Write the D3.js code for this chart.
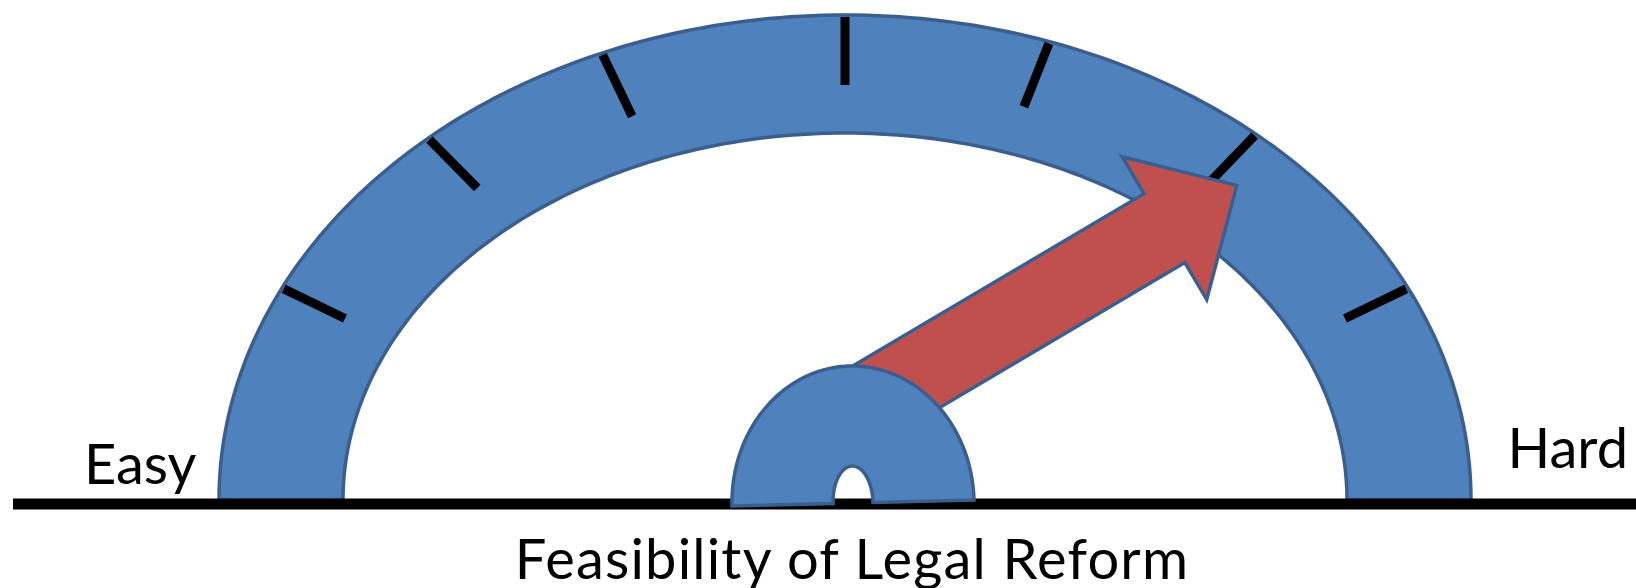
<!DOCTYPE html>
<html>
<head>
<meta charset="utf-8">
<script src="https://cdn.jsdelivr.net/npm/d3@7"></script>
<style>
  html, body { margin: 0; padding: 0; background: #ffffff; }
  svg { display: block; }
</style>
</head>
<body>
<svg id="chart" width="1636" height="588"></svg>
<script>
// ---- data ----
const scaleDomain = [0, 100];               // Easy -> Hard
const tickValues = [14.4, 26.8, 37.3, 50, 60.6, 72.8, 85.6];
const needleValue = 83;
const endLabels = ["Easy", "Hard"];
const axisTitle = "Feasibility of Legal Reform";

// ---- layout / style ----
const W = 1636, H = 588;
const cx = 845, cy = 500;
const outerRx = 626, outerRy = 485;
const innerRx = 502, innerRy = 367;
const baseY = 504;
const tickFocusY = 560;   // ticks point toward (cx, tickFocusY)
const hub = { cx: 853, cy: 503, rx: 121, ry: 137, holeRx: 20, holeRy: 37, rot: -1.4 };
const arrow = { tail: 40, shaftHalf: 40, headStart: 408, headHalf: 83, tip: 492, offset: -78 };
const blue = "#4F81BD", blueStroke = "#3A5F8E", red = "#C0504D";
const strokeW = 3.5;
const font = "Lato, 'Open Sans', sans-serif";

const svg = d3.select("#chart");

// value -> parametric angle (radians), Easy on the left, Hard on the right
const angle = d3.scaleLinear().domain(scaleDomain).range([Math.PI, 0]);

const deg = d3.range(0, 181, 1).map(d => d * Math.PI / 180);
function ellipsePts(ex, ey, rx, ry, ts) {
  return ts.map(t => [ex + rx * Math.cos(t), ey - ry * Math.sin(t)]);
}

// ring (half elliptical band)
const outerPts = ellipsePts(cx, cy, outerRx, outerRy, deg.slice().reverse()); // left -> right
const innerPts = ellipsePts(cx, cy, innerRx, innerRy, deg);                   // right -> left
const line = d3.line();
svg.append("path")
  .attr("d", line(outerPts.concat(innerPts)) + "Z")
  .attr("fill", blue)
  .attr("stroke", blueStroke)
  .attr("stroke-width", strokeW)
  .attr("stroke-linejoin", "miter");

// ticks
svg.append("g").selectAll("line")
  .data(tickValues)
  .join("line")
  .each(function (v) {
    const t = angle(v);
    const px = cx + outerRx * Math.cos(t), py = cy - outerRy * Math.sin(t);
    let nx = cx - px, ny = tickFocusY - py;
    const L = Math.hypot(nx, ny); nx /= L; ny /= L;
    d3.select(this)
      .attr("x1", px + 2 * nx).attr("y1", py + 2 * ny)
      .attr("x2", px + 70 * nx).attr("y2", py + 70 * ny);
  })
  .attr("stroke", "#000")
  .attr("stroke-width", 9);

// baseline
svg.append("line")
  .attr("x1", 13).attr("x2", W)
  .attr("y1", baseY).attr("y2", baseY)
  .attr("stroke", "#000")
  .attr("stroke-width", 11);

// arrow (needle)
const needleDeg = angle(needleValue) * 180 / Math.PI;
const a = arrow;
const arrowPts = [
  [a.tail, -a.shaftHalf], [a.headStart, -a.shaftHalf], [a.headStart, -a.headHalf],
  [a.tip, 0], [a.headStart, a.headHalf], [a.headStart, a.shaftHalf], [a.tail, a.shaftHalf]
];
svg.append("g")
  .attr("transform", `translate(${hub.cx},${hub.cy}) rotate(${-needleDeg}) translate(0,${a.offset})`)
  .append("path")
  .attr("d", line(arrowPts) + "Z")
  .attr("fill", red)
  .attr("stroke", blueStroke)
  .attr("stroke-width", strokeW)
  .attr("stroke-linejoin", "miter");

// hub
const hubOuter = ellipsePts(0, 0, hub.rx, hub.ry, deg.slice().reverse());
const hubHole = ellipsePts(0, 0, hub.holeRx, hub.holeRy, deg);
svg.append("g")
  .attr("transform", `translate(${hub.cx},${hub.cy}) rotate(${hub.rot})`)
  .append("path")
  .attr("d", line(hubOuter.concat(hubHole)) + "Z")
  .attr("fill", blue)
  .attr("stroke", blueStroke)
  .attr("stroke-width", strokeW);

// labels
svg.append("text")
  .attr("x", 84).attr("y", 484)
  .attr("font-family", font).attr("font-size", 56)
  .attr("fill", "#000")
  .text(endLabels[0]);
svg.append("text")
  .attr("x", 1628).attr("y", 468)
  .attr("text-anchor", "end")
  .attr("font-family", font).attr("font-size", 56)
  .attr("fill", "#000")
  .text(endLabels[1]);
svg.append("text")
  .attr("x", 852).attr("y", 579)
  .attr("text-anchor", "middle")
  .attr("font-family", font).attr("font-size", 56)
  .attr("letter-spacing", 1.2)
  .attr("fill", "#000")
  .text(axisTitle);
</script>
</body>
</html>
